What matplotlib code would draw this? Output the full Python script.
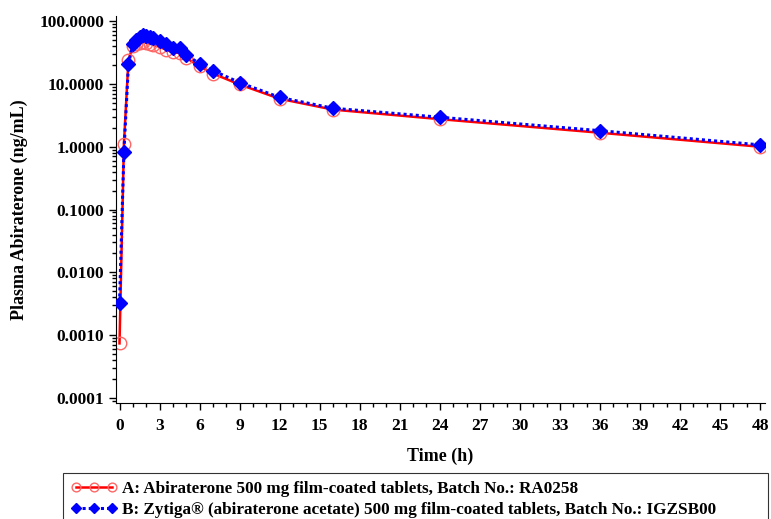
import matplotlib
matplotlib.use('Agg')
import matplotlib.pyplot as plt
from matplotlib.ticker import FixedLocator, LogLocator, NullFormatter, MultipleLocator

# sampling times (h)
times = [0, 0.33, 0.67, 1, 1.25, 1.5, 1.75, 2, 2.25, 2.5, 3, 3.5, 4, 4.5,
         5, 6, 7, 9, 12, 16, 24, 36, 48]

# A: test product, mean plasma abiraterone (ng/mL)
conc_a = [0.00074, 1.1, 24, 40, 43, 45, 46, 45, 44, 42, 39, 35, 32, 31,
          26, 19, 14.6, 9.8, 5.8, 3.9, 2.75, 1.67, 1.0]
# B: reference product
conc_b = [0.0033, 0.82, 20.5, 44, 50, 56, 60, 59, 55, 53, 49, 43, 38, 37,
          29, 21, 16.3, 10.5, 6.1, 4.1, 2.95, 1.8, 1.07]

label_a = 'A: Abiraterone 500 mg film-coated tablets, Batch No.: RA0258'
label_b = 'B: Zytiga\u00ae (abiraterone acetate) 500 mg film-coated tablets, Batch No.: IGZSB00'

y_ticks = [0.0001, 0.001, 0.01, 0.1, 1, 10, 100]
y_ticklabels = ['0.0001', '0.0010', '0.0100', '0.1000', '1.0000', '10.0000', '100.0000']

plt.rcParams['font.family'] = ['Liberation Serif', 'DejaVu Serif']
plt.rcParams['font.weight'] = 'bold'

fig = plt.figure(figsize=(7.71, 5.19), dpi=100)
ax = fig.add_axes([0.1505, 0.2235, 0.8415, 0.7455])

ax.plot(times, conc_a, color='red', lw=1.8, marker='o', ms=9,
        mfc='none', mec='#ff6666', mew=1.0, label=label_a, zorder=2)
ax.plot(times, conc_b, color='blue', lw=2.2, ls=(0, (1, 1)), marker='D', ms=7,
        mfc='blue', mec='blue', label=label_b, zorder=3)

ax.set_yscale('log')
ax.set_ylim(10 ** -4.08, 10 ** 2.08)
ax.set_xlim(-0.26, 48.35)

ax.yaxis.set_major_locator(FixedLocator(y_ticks))
ax.set_yticklabels(y_ticklabels)
ax.yaxis.set_minor_locator(LogLocator(base=10, subs=range(2, 10), numticks=20))
ax.yaxis.set_minor_formatter(NullFormatter())

ax.xaxis.set_major_locator(MultipleLocator(3))
ax.xaxis.set_minor_locator(MultipleLocator(1))

ax.tick_params(axis='both', which='major', length=5, width=1, labelsize=12.5)
ax.tick_params(axis='both', which='minor', length=3, width=1)
ax.tick_params(axis='x', which='major', pad=6)
for lab in ax.get_xticklabels() + ax.get_yticklabels():
    lab.set_fontweight('bold')

for side in ('top', 'right'):
    ax.spines[side].set_visible(False)

ax.set_xlabel('Time (h)', fontsize=13, fontweight='bold', labelpad=10)
ax.set_ylabel('Plasma Abiraterone (ng/mL)', fontsize=13, fontweight='bold', labelpad=8)

leg = fig.legend(loc='upper left', bbox_to_anchor=(0.082, 0.0, 0.914, 1 - 473 / 519),
                 mode='expand', ncol=1, numpoints=3, handlelength=2.7,
                 handletextpad=0.3, borderaxespad=0, borderpad=0.45,
                 labelspacing=0.3, fancybox=False, edgecolor='black',
                 markerscale=0.7, prop={'weight': 'bold', 'size': 12.3})
leg.get_frame().set_linewidth(0.8)

fig.savefig('out.png', dpi=100)
